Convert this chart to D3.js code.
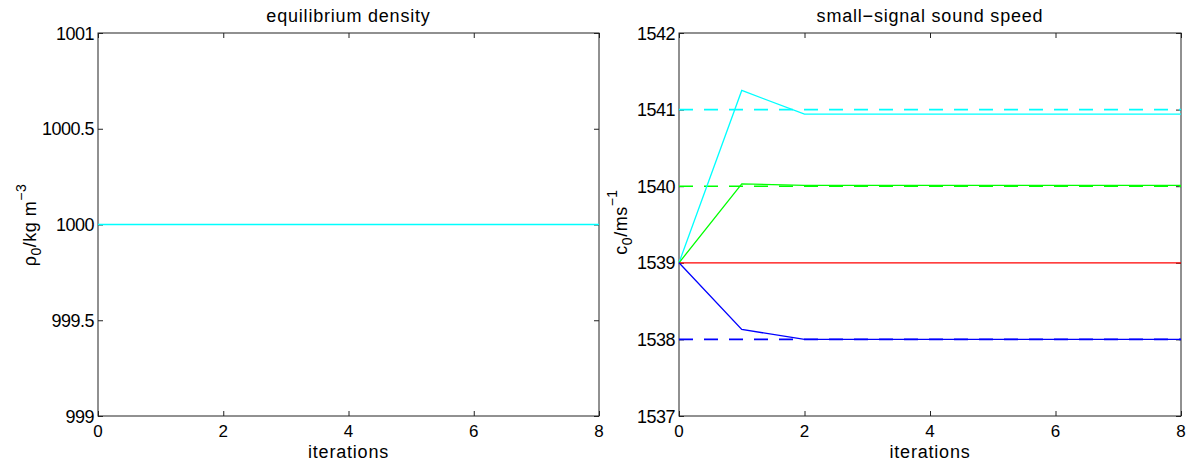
<!DOCTYPE html>
<html>
<head>
<meta charset="utf-8">
<script src="https://cdn.jsdelivr.net/npm/d3@7"></script>
<style>
  body { margin: 0; background: #fff; }
  text { font-family: "Liberation Sans", Arial, Helvetica, sans-serif; fill: #000; }
</style>
</head>
<body>
<svg></svg>
<script>
// iterations 0..8
var iterations = [0, 1, 2, 3, 4, 5, 6, 7, 8];

// left panel: equilibrium density
var rho0 = [1000, 1000, 1000, 1000, 1000, 1000, 1000, 1000, 1000];

// right panel: small-signal sound speed estimates (solid) and true values (dashed)
var cCyan  = [1539, 1541.25, 1540.94, 1540.94, 1540.94, 1540.94, 1540.94, 1540.94, 1540.94];
var cGreen = [1539, 1540.03, 1540.01, 1540.01, 1540.01, 1540.01, 1540.01, 1540.01, 1540.01];
var cRed   = [1539, 1539, 1539, 1539, 1539, 1539, 1539, 1539, 1539];
var cBlue  = [1539, 1538.13, 1538.0, 1538.0, 1538.0, 1538.0, 1538.0, 1538.0, 1538.0];
var trueValues = [1541, 1540, 1538];
var trueColors = ["#00ffff", "#00ff00", "#0000ff"];

var xTicks = [0, 2, 4, 6, 8];
var rhoTicks = [999, 999.5, 1000, 1000.5, 1001];
var cTicks = [1537, 1538, 1539, 1540, 1541, 1542];

var svg = d3.select("svg")
    .attr("width", 1200)
    .attr("height", 465);

var top_ = 33, bottom_ = 416;

function panel(x0, x1, ydomain, yticks, title) {
    var g = svg.append("g");
    var x = d3.scaleLinear().domain([0, 8]).range([x0, x1]);
    var y = d3.scaleLinear().domain(ydomain).range([bottom_, top_]);

    // ticks on all four sides, pointing inward
    g.append("g").attr("transform", "translate(0," + bottom_ + ")")
        .call(d3.axisTop(x).tickValues(xTicks).tickSize(5).tickFormat(""));
    g.append("g").attr("transform", "translate(0," + top_ + ")")
        .call(d3.axisBottom(x).tickValues(xTicks).tickSize(5).tickFormat(""));
    g.append("g").attr("transform", "translate(" + x0 + ",0)")
        .call(d3.axisRight(y).tickValues(yticks).tickSize(5).tickFormat(""));
    g.append("g").attr("transform", "translate(" + x1 + ",0)")
        .call(d3.axisLeft(y).tickValues(yticks).tickSize(5).tickFormat(""));
    g.selectAll(".domain").remove();
    g.selectAll(".tick line").attr("stroke", "#222");

    g.append("rect")
        .attr("x", x0).attr("y", top_)
        .attr("width", x1 - x0).attr("height", bottom_ - top_)
        .attr("fill", "none").attr("stroke", "#222").attr("stroke-width", 1);

    // tick labels
    g.selectAll(".xl").data(xTicks).enter().append("text")
        .attr("x", function(d) { return x(d); })
        .attr("y", 437)
        .attr("text-anchor", "middle")
        .style("font-size", "17px")
        .text(function(d) { return d; });
    g.selectAll(".yl").data(yticks).enter().append("text")
        .attr("x", x0 - 4)
        .attr("y", function(d) { return y(d) + 6.5; })
        .attr("text-anchor", "end")
        .style("font-size", "18px")
        .style("letter-spacing", "-0.5px")
        .text(function(d) { return d; });

    g.append("text")
        .attr("x", (x0 + x1) / 2).attr("y", 22)
        .attr("text-anchor", "middle")
        .style("font-size", "18px")
        .style("letter-spacing", "0.8px")
        .text(title);
    g.append("text")
        .attr("x", (x0 + x1) / 2).attr("y", 458)
        .attr("text-anchor", "middle")
        .style("font-size", "18px")
        .style("letter-spacing", "0.8px")
        .text("iterations");

    return { g: g, x: x, y: y };
}

function ylabel(cx, cy, main, sub, rest, sup) {
    var t = svg.append("text")
        .attr("transform", "translate(" + cx + "," + cy + ") rotate(-90)")
        .attr("text-anchor", "middle")
        .style("font-size", "18px")
        .style("letter-spacing", "0.5px");
    t.append("tspan").text(main);
    t.append("tspan").attr("dy", 5).style("font-size", "14px").text(sub);
    t.append("tspan").attr("dy", -5).text(rest);
    t.append("tspan").attr("dy", -10).style("font-size", "14px").text(sup);
}

function addLine(p, values, color, dash) {
    var line = d3.line()
        .x(function(d, i) { return p.x(iterations[i]); })
        .y(function(d) { return p.y(d); });
    p.g.append("path")
        .datum(values)
        .attr("d", line)
        .attr("fill", "none")
        .attr("stroke", color)
        .attr("stroke-width", dash ? 1.6 : 1.3)
        .attr("stroke-dasharray", dash || null);
}

// left
var left = panel(98, 599, [999, 1001], rhoTicks, "equilibrium density");
addLine(left, rho0, "#00ffff");
ylabel(36, 225, "\u03c1", "0", "/kg m", "\u22123");

// right
var right = panel(679, 1181, [1537, 1542], cTicks, "small\u2212signal sound speed");
trueValues.forEach(function(v, k) {
    addLine(right, iterations.map(function() { return v; }), trueColors[k], "14,11");
});
addLine(right, cCyan, "#00ffff");
addLine(right, cGreen, "#00ff00");
addLine(right, cRed, "#ff0000");
addLine(right, cBlue, "#0000ff");
ylabel(627, 222, "c", "0", "/ms", "\u22121");
</script>
</body>
</html>
